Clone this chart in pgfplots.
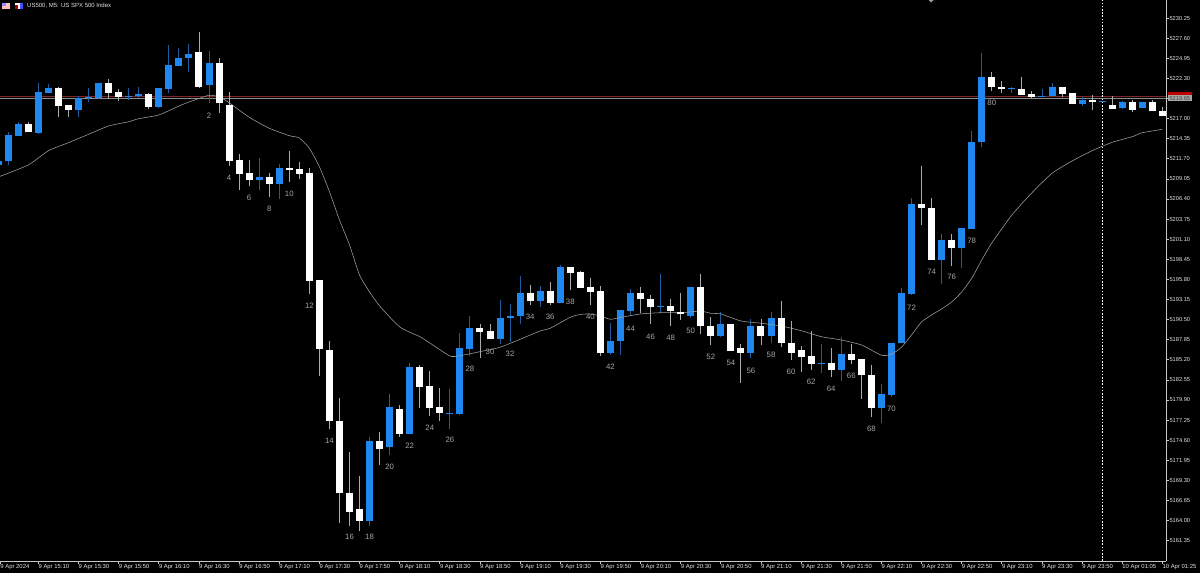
\documentclass[border=0pt]{standalone}
\usepackage{fontspec}
\setmainfont{Liberation Sans}
\usepackage{pgfplots}
\usepackage{pgfplotstable}
\pgfplotsset{compat=1.18}
\definecolor{upbar}{HTML}{1E88F0}
\definecolor{upwick}{HTML}{1F5C9E}
\definecolor{dnwick}{HTML}{ABABAB}
\definecolor{malin}{HTML}{A0A0A0}
\definecolor{axgray}{HTML}{C8C8C8}
\definecolor{txtgray}{HTML}{E4E4E4}
\definecolor{numgray}{HTML}{A6A6A6}
\definecolor{redline}{HTML}{7E2626}
\definecolor{priceline}{HTML}{8C8C8C}

% k low high bot top
\pgfplotstableread{
k low high bot top
-1 5210.62 5211.45 5210.89 5211.45
0 5210.89 5215.20 5211.37 5214.80
1 5214.71 5216.52 5214.71 5216.29
3 5214.93 5221.74 5215.14 5220.51
4 5220.38 5221.53 5220.38 5221.00
7 5217.18 5219.98 5218.14 5219.72
8 5219.19 5221.04 5219.80 5219.90
9 5219.55 5221.70 5219.68 5221.70
12 5219.46 5221.00 5219.89 5219.98
13 5219.76 5221.21 5219.94 5220.21
15 5218.40 5221.00 5218.49 5221.00
16 5220.42 5226.75 5220.91 5224.03
17 5223.98 5226.27 5223.98 5225.03
18 5223.19 5226.80 5224.95 5225.52
20 5219.02 5225.96 5221.47 5224.29
25 5207.59 5211.77 5208.95 5209.26
27 5206.40 5211.02 5208.38 5210.53
36 5163.33 5174.99 5163.91 5174.46
38 5172.65 5180.66 5173.67 5178.94
40 5175.38 5184.74 5175.38 5184.21
44 5176.08 5181.31 5178.08 5178.22
45 5177.97 5188.78 5178.06 5186.76
46 5185.70 5191.02 5186.63 5189.44
49 5187.29 5193.09 5187.91 5190.75
50 5187.59 5192.56 5190.75 5191.02
51 5189.88 5196.25 5190.98 5194.01
53 5192.20 5194.97 5192.92 5194.27
55 5192.69 5197.70 5192.69 5197.44
60 5185.84 5190.02 5186.14 5187.72
61 5185.84 5191.77 5187.68 5191.77
62 5190.98 5194.50 5191.68 5194.01
65 5191.33 5196.52 5192.22 5192.30
68 5190.68 5194.76 5190.94 5194.76
71 5188.17 5191.47 5188.34 5189.92
74 5185.40 5190.54 5186.14 5189.70
76 5187.38 5191.55 5188.34 5190.75
81 5183.42 5187.29 5184.70 5184.78
83 5182.45 5188.17 5183.90 5185.97
87 5176.91 5181.97 5178.85 5180.70
88 5180.34 5187.46 5180.56 5187.46
89 5187.38 5194.67 5187.38 5194.01
90 5193.71 5206.50 5193.88 5205.74
93 5195.16 5201.79 5198.36 5201.00
95 5197.35 5202.54 5199.94 5202.54
96 5202.49 5215.41 5202.49 5213.92
97 5213.22 5225.69 5213.88 5222.49
100 5220.42 5221.13 5220.91 5221.04
103 5219.89 5220.95 5219.93 5220.04
104 5219.98 5221.70 5219.98 5221.21
107 5218.70 5219.89 5218.93 5219.46
109 5219.20 5219.35 5219.23 5219.32
111 5218.27 5219.32 5218.36 5219.23
113 5218.40 5219.23 5218.40 5219.23
}\upbars

\pgfplotstableread{
k low high bot top
2 5215.20 5216.52 5215.20 5216.29
5 5217.18 5221.21 5218.66 5221.00
6 5217.18 5218.76 5218.14 5218.76
10 5219.63 5222.22 5220.38 5221.70
11 5219.36 5220.87 5219.89 5220.47
14 5218.23 5220.34 5218.49 5220.25
19 5221.04 5228.38 5221.21 5225.78
21 5217.70 5224.99 5219.02 5224.29
22 5210.79 5220.55 5211.45 5218.84
23 5207.59 5212.30 5209.74 5211.55
24 5208.12 5211.55 5208.95 5209.79
26 5206.63 5209.79 5208.42 5209.26
28 5208.68 5212.77 5210.23 5210.53
29 5209.00 5211.24 5209.74 5210.32
30 5193.88 5210.53 5195.63 5209.79
31 5183.11 5195.72 5186.63 5195.72
32 5176.08 5187.72 5177.14 5186.50
33 5163.65 5180.21 5167.60 5177.18
34 5163.33 5173.01 5165.14 5167.68
35 5162.67 5169.92 5163.91 5165.49
37 5171.33 5175.69 5173.40 5174.46
39 5175.03 5179.24 5175.42 5178.72
41 5178.89 5184.48 5181.66 5184.21
42 5177.83 5183.77 5178.89 5181.75
43 5177.14 5181.53 5178.15 5178.94
47 5185.40 5189.92 5188.87 5189.44
48 5187.91 5189.92 5187.91 5188.96
52 5192.43 5195.03 5192.92 5194.01
54 5192.43 5195.50 5192.65 5194.27
56 5194.41 5197.44 5196.69 5197.44
57 5194.67 5196.95 5194.67 5196.74
58 5192.43 5195.99 5194.18 5194.76
59 5185.67 5194.97 5186.14 5194.27
63 5191.33 5194.76 5193.18 5194.01
64 5189.88 5193.75 5192.17 5193.22
66 5189.62 5193.22 5191.68 5192.30
67 5190.45 5194.01 5191.24 5191.51
69 5188.61 5196.48 5189.62 5194.76
70 5187.16 5190.81 5188.38 5189.70
72 5186.40 5189.92 5186.40 5189.92
73 5182.19 5187.25 5186.14 5186.72
75 5187.16 5190.54 5188.38 5189.70
77 5186.93 5193.00 5187.42 5190.75
78 5185.18 5190.32 5186.14 5187.46
79 5183.64 5187.02 5185.61 5186.50
80 5183.86 5188.96 5184.65 5185.70
82 5182.90 5186.72 5183.90 5184.74
84 5184.65 5187.25 5185.18 5185.97
85 5180.08 5185.27 5183.16 5185.27
86 5177.62 5184.48 5178.85 5183.24
91 5202.98 5210.79 5205.18 5205.74
92 5198.36 5206.50 5198.36 5205.26
94 5197.57 5201.79 5199.94 5201.00
98 5220.64 5223.19 5221.13 5222.49
99 5220.42 5221.92 5220.91 5221.17
101 5220.15 5222.45 5220.15 5220.95
102 5219.72 5220.68 5219.85 5220.21
105 5219.81 5221.21 5220.25 5221.21
106 5218.93 5220.34 5218.93 5220.34
108 5218.14 5220.08 5219.15 5219.46
110 5218.23 5219.98 5218.27 5218.76
112 5217.91 5219.46 5218.18 5219.23
114 5217.97 5219.46 5217.97 5219.23
115 5217.35 5218.49 5217.39 5217.97
}\dnbars

\pgfplotstableread{
k ma
-1 5209.30
2 5210.89
4 5212.77
6 5213.83
8 5214.93
10 5216.03
12 5216.59
13 5216.99
15 5217.48
17 5218.66
18 5219.19
19 5219.65
20 5220.08
21 5219.89
22 5219.10
24 5217.18
26 5215.73
28 5214.75
29 5214.45
30 5213.09
31 5210.66
32 5207.37
33 5203.64
34 5200.34
35 5196.38
36 5194.14
37 5192.30
39 5189.53
41 5188.25
42 5187.42
44 5185.70
45 5185.74
47 5186.27
49 5186.85
51 5187.91
53 5189.00
54 5189.36
56 5190.81
57 5191.18
58 5191.24
59 5190.98
60 5190.54
61 5190.78
63 5191.24
65 5191.41
67 5191.41
69 5191.61
70 5191.33
71 5191.24
73 5190.32
75 5190.02
77 5189.66
79 5189.04
81 5188.25
83 5187.81
85 5187.16
87 5185.80
88 5185.93
89 5186.85
90 5188.47
91 5190.19
92 5191.11
93 5191.90
94 5192.82
95 5194.14
96 5195.95
97 5198.36
98 5200.60
100 5204.29
102 5207.23
104 5209.79
106 5211.41
108 5212.77
110 5213.88
112 5214.62
113 5215.14
115 5215.59
}\maline

\pgfplotstableread{
k y lab
20 5217.39 2
22 5209.13 4
24 5206.58 6
26 5205.08 8
28 5207.06 10
30 5192.34 12
32 5174.50 14
34 5161.80 16
36 5161.80 18
38 5171.07 20
40 5173.84 22
42 5176.21 24
44 5174.63 26
46 5184.03 28
48 5186.27 30
50 5186.01 32
52 5190.85 34
54 5190.85 36
56 5192.82 38
58 5190.85 40
60 5184.29 42
62 5189.27 44
64 5188.25 46
66 5188.04 48
68 5189.00 50
70 5185.53 52
72 5184.74 54
74 5183.77 56
76 5185.80 58
78 5183.56 60
80 5182.32 62
82 5181.31 64
84 5183.11 66
86 5176.04 68
88 5178.76 70
90 5192.07 72
92 5196.78 74
94 5196.08 76
96 5200.87 78
98 5219.06 80
}\barnums

% one wick and one body per table row, both drawn from the table
\newcommand{\candles}[3]{%
  \pgfplotstablegetrowsof{#1}%
  \pgfmathtruncatemacro{\lastrow}{\pgfplotsretval-1}%
  \pgfplotsforeachungrouped \r in {0,...,\lastrow}{%
    \pgfplotstablegetelem{\r}{k}\of{#1}\let\ck\pgfplotsretval
    \pgfplotstablegetelem{\r}{low}\of{#1}\let\cl\pgfplotsretval
    \pgfplotstablegetelem{\r}{high}\of{#1}\let\ch\pgfplotsretval
    \pgfplotstablegetelem{\r}{bot}\of{#1}\let\cb\pgfplotsretval
    \pgfplotstablegetelem{\r}{top}\of{#1}\let\ct\pgfplotsretval
    \edef\cmd{%
      \noexpand\addplot[#3, line width=0.9bp, line cap=butt, no markers, forget plot] coordinates {(\ck,\cl) (\ck,\ch)};
      \noexpand\addplot[#2, line width=7bp, line cap=butt, no markers, forget plot] coordinates {(\ck,\cb) (\ck,\ct)};
    }\cmd
  }%
}

\begin{document}
\begin{tikzpicture}
\useasboundingbox (0,0) rectangle (1200bp,573bp);
\fill[black] (0,0) rectangle (1200bp,573bp);

\begin{axis}[
  at={(0,12bp)}, anchor=south west,
  scale only axis,
  width=1166bp, height=561bp,
  xmin=-0.827, xmax=115.36,
  ymin=5158.67, ymax=5232.64,
  axis x line*=bottom,
  axis y line*=right,
  axis line style={axgray, line width=0.8bp, -},
  tick style={axgray, line width=0.7bp},
  major tick length=3bp,
  tick align=outside,
  xtick={-0.8,3,7,...,115},
  xticklabels={9 Apr 2024,9 Apr 15:10,9 Apr 15:30,9 Apr 15:50,9 Apr 16:10,9 Apr 16:30,9 Apr 16:50,9 Apr 17:10,9 Apr 17:30,9 Apr 17:50,9 Apr 18:10,9 Apr 18:30,9 Apr 18:50,9 Apr 19:10,9 Apr 19:30,9 Apr 19:50,9 Apr 20:10,9 Apr 20:30,9 Apr 20:50,9 Apr 21:10,9 Apr 21:30,9 Apr 21:50,9 Apr 22:10,9 Apr 22:30,9 Apr 22:50,9 Apr 23:10,9 Apr 23:30,9 Apr 23:50,10 Apr 01:05,10 Apr 01:25},
  xticklabel style={anchor=north west, inner sep=0pt, font=\fontsize{5.9bp}{6bp}\selectfont, text=txtgray, yshift=-0.5bp},
  ytick={5161.35,5164.00,5166.65,5169.30,5171.95,5174.60,5177.25,5179.90,5182.55,5185.20,5187.85,5190.50,5193.15,5195.80,5198.45,5201.10,5203.75,5206.40,5209.05,5211.70,5214.35,5217.00,5219.65,5222.30,5224.95,5227.60,5230.25},
  yticklabel style={anchor=west, inner sep=0pt, font=\fontsize{5.7bp}{6bp}\selectfont, text=txtgray, xshift=0.3bp,
    /pgf/number format/.cd, fixed, fixed zerofill, precision=2, 1000 sep={}, assume math mode=true},
  scaled y ticks=false,
  clip mode=individual,
]
% current price lines, behind the bars
\addplot[redline, line width=0.8bp] coordinates {(-0.827,5219.98) (115.36,5219.98)};
\addplot[priceline, line width=0.6bp] coordinates {(-0.827,5219.70) (115.36,5219.70)};
% period separator
\addplot[white, line width=0.7bp, dash pattern=on 1.6bp off 1.6bp] coordinates {(109,5158.67) (109,5232.64)};

\candles{\upbars}{upbar}{upwick}

% moving average
\addplot[malin, line width=0.55bp, smooth, tension=0.35] table[x=k, y=ma] {\maline};

\candles{\dnbars}{white}{dnwick}

% bar numbers
\addplot[only marks, mark=none, point meta=explicit symbolic,
  nodes near coords, nodes near coords align=center,
  every node near coord/.append style={anchor=center, inner sep=0pt, text=numgray, font=\fontsize{7.8bp}{8bp}\selectfont}]
  table[x=k, y=y, meta=lab] {\barnums};
\end{axis}

% header: icons and symbol, price tag, top marker
\fill[red!25!white] (2bp,564bp) rectangle (10bp,570bp);
\fill[blue!45!white] (2bp,567bp) rectangle (6bp,570bp);
\fill[white] (15bp,564bp) rectangle (23bp,570bp);
\fill[red!70!black] (15bp,564bp) rectangle (18bp,568bp);
\fill[blue!70!white] (20bp,564bp) rectangle (23bp,570bp);
\node[anchor=west, inner sep=0pt, text=txtgray, font=\fontsize{6bp}{6bp}\selectfont] at (27bp,567bp) {US500, M5: US SPX 500 Index};
\fill[red!75!black] (1167.7bp,477.5bp) rectangle (1192bp,481bp);
\fill[gray!70] (1167.7bp,471.5bp) rectangle (1192bp,477.5bp);
\node[anchor=west, inner sep=0pt, text=black!75, font=\fontsize{5.7bp}{6bp}\selectfont] at (1169.3bp,474.7bp) {5219.65};
\fill[gray!80] (928.5bp,573bp) -- (933.5bp,573bp) -- (931bp,570.5bp) -- cycle;
\end{tikzpicture}
\end{document}
